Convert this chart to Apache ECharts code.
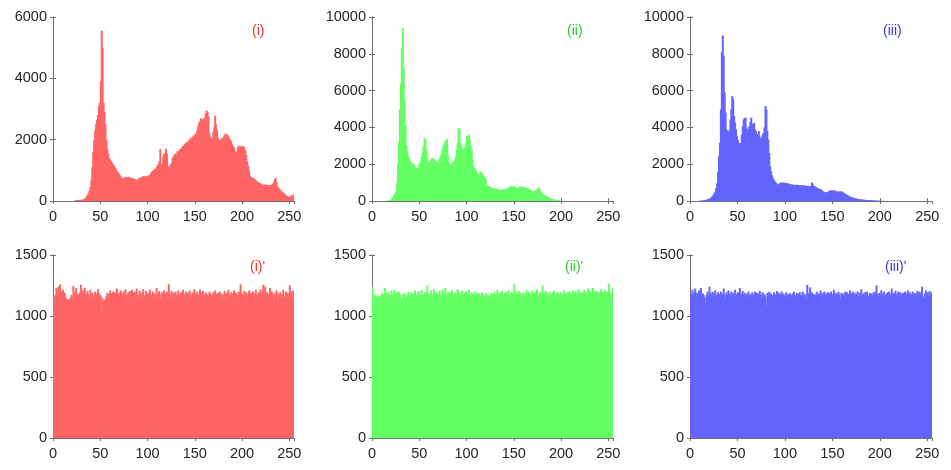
<!DOCTYPE html>
<html><head><meta charset="utf-8">
<script src="https://cdn.jsdelivr.net/npm/echarts@6/dist/echarts.min.js"></script>
<style>html,body{margin:0;padding:0;background:#fff}#c{width:951px;height:470px}</style>
</head><body><div id="c"></div>
<script>
// gray levels (categories)
const bins = Array.from({length:256}, (_, i) => i);
const xTickLabels = [0, 50, 100, 150, 200, 250];

// (i) original red channel histogram
const histR = [
0,0,0,0,0,0,0,0,0,0, 0,0,0,0,0,0,0,0,0,0, 0,0,0,
20,25,30,25,30,35,30,40,45,50,
70,100,140,200,260,330,
450,700,1100,1600,2000,2300,2500,
2650,2800,3100,3200,3900,
5550,5000,
3200,2900,2500,2000,
1700,1550,1400,1350,1300,1250,1200,
1150,1100,1050,980,950,900,850,
800,760,740,720,760,780,770,
760,790,770,740,760,720,750,700,720,690,650,
700,720,760,740,780,760,
820,790,810,780,800,830,800,850,
900,950,980,1000,1050,1000,1100,1150,
1200,1300,1700,1150,1200,1450,1550,1300,
1700,1550,1150,1100,1130,1200,1250,1400,
1450,1500,1550,1500,1620,1600,1650,1700,1680,1750,1800,
1780,1850,1900,1880,1950,1900,2000,2050,1980,2100,2060,2150,2200,2100,
2300,2450,2550,2600,2700,2580,2650,2700,2600,2850,2950,2880,2750,
2200,2100,2050,2000,2250,2400,2780,2500,2300,2050,2000,1950,
2000,2050,1980,2100,2150,2200,2100,2170,2120,2050,2000,1950,1850,1780,
1750,1650,1600,1550,1750,1800,1700,1780,1790,1800,
1780,1750,1650,1500,1300,1150,1000,
820,780,760,750,740,700,680,650,620,600,590,580,560,
540,530,520,540,530,500,520,510,500,530,520,560,
600,700,760,620,
480,430,400,360,320,300,270,250,220,
180,160,140,130,140,150,200,170,140,230
];

// (ii) original green channel histogram
const histG = [
0,0,0,0,0,0,0,0,0,0, 0,0,0,0,0,0,
10,20,40,60,100,
150,230,330,420,510,970,2000,
3200,5000,6400,8300,9400,7200,5500,4100,3000,2700,
2430,2300,2150,2100,2060,2000,1970,1850,1790,1750,
1790,1970,2050,2150,2400,2610,3000,3430,3340,2790,
2240,2100,2060,2150,2240,2340,2300,2280,2200,2150,
2100,2060,2150,2300,2430,2600,2790,3000,3160,3250,
3300,3380,2500,2060,1970,1950,2060,2100,2150,2250,
2430,2800,3160,3980,3890,3160,3000,2880,2850,2790,
2950,3160,3520,3450,3610,3340,3000,2790,2240,1880,
1800,1700,1600,1510,1450,1420,1600,1550,1510,1420,
1330,1250,1150,880,820,790,770,750,720,700,
690,680,660,650,640,630,620,610,600,610,
620,640,650,660,680,690,720,760,790,800,
780,790,800,760,720,690,700,740,770,790,
780,760,750,740,720,690,700,660,630,600,
580,560,540,510,560,600,640,700,750,640,
510,450,380,330,300,280,260,240,210,180,
150,130,110,90,80,70,60,55,45,35,
25,20,15,10,5,3,
0,0,0,0,0,0,0,0,0,0, 0,0,0,0,0,0,0,0,0,0,
0,0,0,0,0,0,0,0,0,0, 0,0,0,0,0,0,0,0,0,0,
0,0,0,0,0,0,0,0,0,0, 0,0
];

// (iii) original blue channel histogram
const histB = [
0,0,0,0,0,0,0,0,0,0,
10,15,20,25,30,40,55,70,90,110,
130,150,200,260,330,420,510,700,970,1600,
2430,3160,4980,8085,9000,7900,5900,4800,3890,3800,
3750,3850,4430,5000,5700,5530,4620,4250,3900,3520,
3300,3160,3100,3160,3600,4070,4430,4500,4530,4000,
3700,3900,4070,4300,4530,4160,4200,4250,3900,3800,
3520,3650,3800,3500,3340,3430,3600,3700,4000,5160,
4980,3800,3340,2610,1880,1600,1400,1240,1150,1060,
1000,950,880,900,970,990,1000,1000,980,1000,
970,960,970,950,930,910,900,890,880,880,
870,880,880,870,860,860,850,860,850,840,
840,830,830,820,810,800,790,820,1000,900,
820,800,760,730,700,680,660,640,600,560,
510,490,470,460,470,500,540,570,580,560,
570,580,560,540,510,520,500,510,520,510,
510,460,420,390,360,330,300,270,240,220,
200,180,170,150,140,130,115,100,95,90,
80,75,70,65,60,55,55,50,45,40,
38,35,30,28,25,22,20,18,15,12,
10,8,7,6,5,4,3,2,1,0,
0,0,0,0,0,0,0,0,0,0, 0,0,0,0,0,0,0,0,0,0,
0,0,0,0,0,0,0,0,0,0, 0,0,0,0,0,0,0,0,0,0,
0,0,0,0,0,0
];

// (i)' encrypted red channel histogram
const histR2 = [
1165,1160,1170,1230,1175,1240,1190,1260,1200,1180,1215,1170,1190,1150,1135,1120,
1140,1125,1150,1175,1160,1245,1140,1200,1230,1165,1180,1150,1195,1255,1170,1210,
1160,1230,1180,1150,1205,1175,1140,1215,1160,1190,1135,1170,1200,1150,1180,1220,
1190,1150,1170,1050,1145,1120,1135,1130,1165,1190,1140,1180,1210,1175,1185,1200,
1170,1195,1180,1225,1175,1190,1160,1210,1185,1165,1200,1170,1220,1180,1150,1195,
1130,1205,1180,1215,1170,1190,1200,1150,1225,1175,1160,1210,1185,1140,1195,1220,
1170,1150,1205,1180,1135,1190,1215,1160,1175,1200,1145,1185,1170,1230,1160,1190,
1205,1140,1175,1195,1165,1210,1150,1185,1200,1170,1260,1180,1155,1205,1175,1190,
1150,1200,1165,1185,1210,1140,1175,1195,1160,1215,1180,1145,1200,1170,1190,1160,
1210,1175,1135,1195,1180,1220,1160,1185,1200,1150,1175,1215,1190,1165,1205,1180,
1140,1195,1170,1180,1160,1200,1185,1150,1175,1195,1165,1210,1180,1155,1190,1170,
1200,1160,1185,1130,1175,1205,1140,1190,1170,1215,1180,1160,1195,1150,1185,1210,
1165,1190,1175,1140,1200,1180,1260,1170,1185,1150,1205,1175,1195,1160,1180,1210,
1145,1190,1170,1200,1160,1185,1215,1175,1150,1195,1180,1220,1170,1205,1255,1185,
1240,1170,1195,1160,1180,1230,1150,1200,1175,1125,1190,1165,1210,1140,1185,1170,
1195,1150,1180,1215,1160,1135,1200,1175,1190,1155,1250,1170,1205,1140,1210,1200
];

// (ii)' encrypted green channel histogram
const histG2 = [
1240,1130,1175,1160,1165,1150,1145,1170,1135,1160,1185,1150,1175,1230,1165,1190,
1160,1200,1175,1145,1210,1170,1155,1215,1185,1140,1195,1165,1200,1180,1090,1150,
1175,1110,1190,1160,1145,1180,1200,1155,1170,1195,1140,1185,1165,1210,1175,1150,
1190,1205,1160,1180,1215,1170,1145,1195,1175,1200,1250,1165,1185,1155,1210,1170,
1180,1220,1150,1195,1170,1185,1140,1205,1175,1160,1215,1190,1165,1230,1180,1145,
1200,1170,1190,1135,1210,1175,1160,1195,1185,1150,1220,1170,1200,1165,1180,1210,
1145,1190,1175,1205,1160,1185,1215,1170,1150,1195,1180,1165,1200,1140,1175,1190,
1160,1185,1170,1150,1195,1175,1140,1165,1185,1155,1175,1160,1145,1170,1190,1180,
1150,1200,1165,1175,1215,1140,1185,1195,1160,1205,1170,1150,1190,1180,1200,1165,
1210,1175,1140,1195,1185,1155,1260,1170,1200,1130,1180,1205,1165,1190,1150,1175,
1195,1160,1180,1215,1145,1200,1175,1190,1165,1210,1185,1150,1195,1170,1220,1180,
1160,1200,1175,1190,1250,1165,1185,1210,1155,1195,1175,1140,1200,1180,1165,1190,
1205,1170,1150,1185,1195,1165,1180,1200,1175,1155,1190,1215,1170,1185,1160,1200,
1175,1195,1160,1180,1210,1170,1190,1205,1165,1185,1220,1175,1200,1160,1190,1180,
1215,1170,1195,1185,1225,1165,1205,1180,1190,1230,1175,1200,1185,1210,1160,1195,
1180,1205,1220,1175,1195,1160,1215,1185,1200,1170,1265,1180,1195,1140,1225,1210
];

// (iii)' encrypted blue channel histogram
const histB2 = [
1150,1180,1215,1170,1195,1225,1160,1190,1175,1210,1200,1230,1165,1185,1170,1150,
1090,1175,1200,1160,1240,1185,1170,1200,1165,1190,1210,1175,1150,1195,1180,1165,
1200,1160,1185,1225,1175,1140,1195,1170,1210,1185,1160,1200,1175,1190,1165,1215,
1180,1160,1195,1170,1230,1185,1150,1205,1175,1190,1160,1185,1170,1200,1145,1180,
1165,1195,1150,1180,1200,1170,1190,1160,1185,1205,1175,1140,1195,1170,1180,1160,
1085,1190,1175,1200,1160,1185,1170,1150,1195,1180,1165,1205,1175,1190,1160,1180,
1200,1170,1185,1160,1175,1195,1150,1180,1165,1190,1140,1175,1185,1200,1160,1170,
1190,1155,1180,1195,1165,1175,1200,1160,1185,1170,1145,1255,1190,1180,1235,1170,
1195,1160,1180,1130,1175,1200,1165,1185,1170,1210,1150,1190,1180,1200,1160,1185,
1175,1195,1165,1185,1200,1150,1180,1215,1170,1190,1160,1185,1200,1175,1140,1190,
1170,1185,1160,1200,1175,1195,1165,1180,1210,1150,1185,1200,1170,1190,1165,1180,
1200,1160,1190,1175,1220,1170,1185,1160,1195,1180,1200,1170,1140,1190,1175,1185,
1160,1195,1175,1200,1250,1180,1165,1190,1170,1210,1185,1160,1200,1175,1130,1190,
1175,1200,1185,1160,1225,1170,1190,1180,1205,1165,1185,1200,1170,1195,1160,1180,
1190,1170,1200,1165,1185,1210,1175,1195,1160,1180,1200,1170,1190,1185,1165,1205,
1180,1200,1170,1195,1240,1160,1100,1185,1210,1175,1195,1165,1205,1180,1190,1200
];

const panelData = [histR, histG, histB, histR2, histG2, histB2];
const panelLabels = ['(i)', '(ii)', '(iii)', "(i)'", "(ii)'", "(iii)'"];
const yMaxes = [6000, 10000, 10000, 1500, 1500, 1500];
const ySteps = [2000, 2000, 2000, 500, 500, 500];

const barColors = ['#FF6464', '#64FF64', '#6464FF', '#FF6464', '#64FF64', '#6464FF'];
const labelColors = ['#F22F2F', '#33C633', '#3B3BE0', '#F22F2F', '#33C633', '#3B3BE0'];
const lefts = [53, 372, 690, 53, 372, 690];
const widths = [241, 241, 242, 241, 241, 242];
const tops = [17, 17, 17, 255, 255, 255];
const heights = [184, 184, 184, 183, 183, 183];
const labelPos = [[272, 33], [587, 33], [903, 33], [270, 269], [585, 269], [905, 269]];

const AX = '#6f6f6f';
const TXT = '#262626';
const FONT = "'Liberation Sans', Arial, sans-serif";
const FS = 14.5;

const grid = [], xAxis = [], yAxis = [], series = [], graphic = [];
for (let k = 0; k < 6; k++) {
  grid.push({left: lefts[k], top: tops[k], width: widths[k], height: heights[k], containLabel: false});
  const xBase = {
    type: 'value', gridIndex: k, min: 0, max: 255, interval: 50,
    axisLine: {show: true, lineStyle: {color: AX, width: 1}},
    axisTick: {show: true, inside: true, length: 3, lineStyle: {color: AX}},
    splitLine: {show: false}
  };
  xAxis.push(Object.assign({}, xBase, {
    position: 'bottom',
    axisLabel: {show: true, color: TXT, fontSize: FS, fontFamily: FONT, margin: 8, showMaxLabel: false,
      formatter: v => xTickLabels.indexOf(v) >= 0 ? String(v) : ''}
  }));
  xAxis.push(Object.assign({}, xBase, {position: 'top', axisLabel: {show: false}}));
  const yBase = {
    type: 'value', gridIndex: k, min: 0, max: yMaxes[k], interval: ySteps[k],
    axisLine: {show: true, lineStyle: {color: AX, width: 1}},
    axisTick: {show: true, inside: true, length: 3, lineStyle: {color: AX}},
    splitLine: {show: false}
  };
  yAxis.push(Object.assign({}, yBase, {
    position: 'left',
    axisLabel: {show: true, color: TXT, fontSize: FS, fontFamily: FONT, margin: 6,
      formatter: v => String(v)}
  }));
  yAxis.push(Object.assign({}, yBase, {position: 'right', axisLabel: {show: false}}));

  const color = barColors[k];
  const vals = panelData[k];
  series.push({
    type: 'custom',
    xAxisIndex: 2 * k, yAxisIndex: 2 * k,
    data: bins.map(i => [i, vals[i] || 0]),
    silent: true,
    renderItem: function (params, api) {
      const x = api.value(0), v = api.value(1);
      if (!v) return null;
      const p0 = api.coord([x - 0.5, v]);
      const p1 = api.coord([x + 0.5, 0]);
      const cs = params.coordSys;
      const r = echarts.graphic.clipRectByRect(
        {x: p0[0], y: p0[1], width: p1[0] - p0[0] + 1.05, height: p1[1] - p0[1]},
        {x: cs.x, y: cs.y, width: cs.width, height: cs.height});
      if (!r) return null;
      return {type: 'rect', shape: r, style: {fill: color}};
    }
  });
  graphic.push({
    type: 'text', left: labelPos[k][0] - 20, top: labelPos[k][1] - 9,
    style: {text: panelLabels[k], fill: labelColors[k], fontSize: 14, fontFamily: FONT,
      width: 40, align: 'center', textAlign: 'center', x: 20}
  });
}

const chart = echarts.init(document.getElementById('c'), null, {renderer: 'canvas'});
chart.setOption({animation: false, grid, xAxis, yAxis, series, graphic});
</script>
</body></html>
